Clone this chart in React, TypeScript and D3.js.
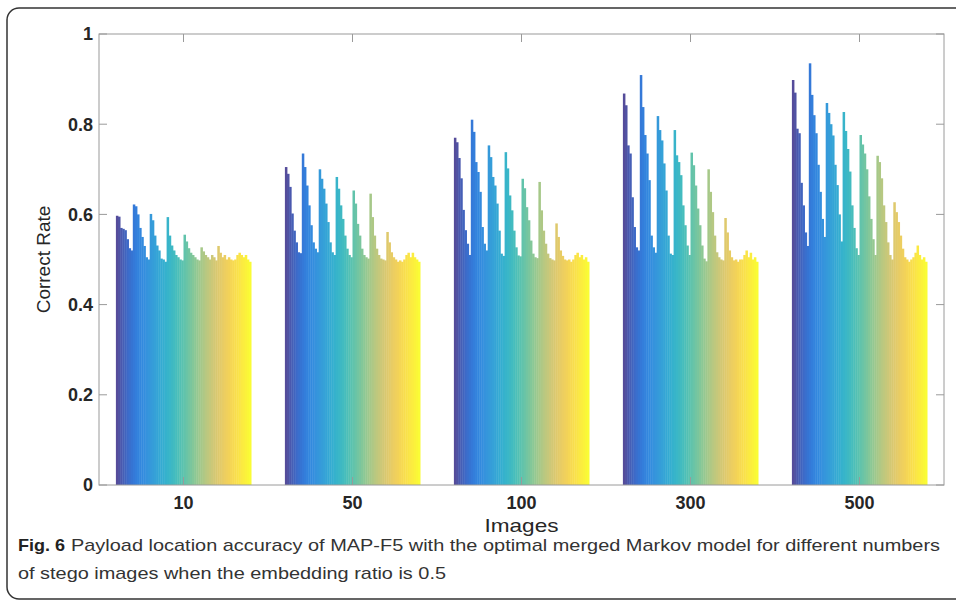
import React from "react";
import * as d3 from "d3";

const categories = ["10", "50", "100", "300", "500"];

// 64 bars per group (8 clusters of 8)
const g10 = [
  0.597, 0.595, 0.57, 0.568, 0.565, 0.545, 0.525, 0.52,
  0.622, 0.618, 0.6, 0.57, 0.55, 0.53, 0.505, 0.5,
  0.601, 0.587, 0.553, 0.531, 0.52, 0.502, 0.5, 0.495,
  0.594, 0.553, 0.531, 0.52, 0.51, 0.505, 0.5, 0.498,
  0.555, 0.54, 0.525, 0.515, 0.51, 0.505, 0.5, 0.498,
  0.527, 0.518, 0.51, 0.505, 0.5, 0.51, 0.505, 0.498,
  0.53, 0.515, 0.505, 0.51, 0.5, 0.505, 0.5, 0.498,
  0.5, 0.51, 0.515, 0.51, 0.505, 0.51, 0.5, 0.495,
];
const g50 = [
  0.705, 0.69, 0.661, 0.602, 0.564, 0.538, 0.516, 0.514,
  0.735, 0.705, 0.664, 0.62, 0.576, 0.538, 0.524, 0.516,
  0.7, 0.679, 0.657, 0.624, 0.583, 0.538, 0.516, 0.51,
  0.683, 0.657, 0.62, 0.59, 0.553, 0.524, 0.51, 0.505,
  0.653, 0.624, 0.579, 0.553, 0.524, 0.51, 0.505, 0.502,
  0.646, 0.594, 0.553, 0.524, 0.51, 0.502, 0.5, 0.498,
  0.561, 0.538, 0.516, 0.505, 0.5, 0.495, 0.498, 0.495,
  0.5, 0.51, 0.515, 0.505, 0.515, 0.505, 0.5, 0.495,
];
const g100 = [
  0.77, 0.76, 0.725, 0.68, 0.61, 0.565, 0.535, 0.51,
  0.81, 0.783, 0.716, 0.694, 0.65, 0.572, 0.535, 0.52,
  0.753, 0.727, 0.683, 0.664, 0.624, 0.564, 0.513, 0.508,
  0.738, 0.702, 0.642, 0.609, 0.564, 0.527, 0.509, 0.507,
  0.679, 0.658, 0.616, 0.587, 0.542, 0.513, 0.505, 0.503,
  0.672, 0.609, 0.564, 0.535, 0.513, 0.503, 0.5, 0.498,
  0.58, 0.55, 0.52, 0.508, 0.5, 0.498, 0.5, 0.495,
  0.5, 0.51, 0.515, 0.505, 0.51, 0.5, 0.505, 0.495,
];
const g300 = [
  0.868, 0.842, 0.753, 0.735, 0.638, 0.572, 0.527, 0.52,
  0.909, 0.838, 0.776, 0.735, 0.676, 0.553, 0.527, 0.515,
  0.818, 0.787, 0.764, 0.713, 0.653, 0.553, 0.513, 0.51,
  0.787, 0.731, 0.716, 0.687, 0.62, 0.576, 0.531, 0.51,
  0.737, 0.709, 0.664, 0.613, 0.576, 0.531, 0.502, 0.496,
  0.7, 0.65, 0.605, 0.553, 0.516, 0.505, 0.5, 0.498,
  0.592, 0.56, 0.52, 0.505, 0.498, 0.5, 0.495, 0.5,
  0.5, 0.51, 0.52, 0.505, 0.515, 0.5, 0.505, 0.495,
];
const g500 = [
  0.898, 0.87, 0.79, 0.78, 0.67, 0.62, 0.56, 0.53,
  0.935, 0.865, 0.82, 0.78, 0.71, 0.65, 0.59, 0.55,
  0.847, 0.825, 0.8, 0.775, 0.71, 0.665, 0.6, 0.54,
  0.827, 0.785, 0.745, 0.695, 0.62, 0.57, 0.525, 0.51,
  0.776, 0.755, 0.735, 0.7, 0.64, 0.59, 0.545, 0.51,
  0.73, 0.716, 0.68, 0.62, 0.583, 0.538, 0.51, 0.5,
  0.627, 0.605, 0.583, 0.553, 0.524, 0.505, 0.5, 0.495,
  0.5, 0.505, 0.515, 0.531, 0.51, 0.5, 0.505, 0.495,
];
const seriesByGroup = [g10, g50, g100, g300, g500];
const yTicks = [0, 0.2, 0.4, 0.6, 0.8, 1];
const yTickLabels = ["0", "0.2", "0.4", "0.6", "0.8", "1"];

const parulaStops = [
  "#352a87", "#0363e1", "#1485d4", "#06a7c6", "#38b99e",
  "#92bf73", "#d9ba56", "#fcce2e", "#f9fb0e",
];

export default function App() {
  const W = 956, H = 606;
  const left = 99, right = 944, top = 34, bottom = 485;
  const nBars = g10.length;

  const x = d3.scaleLinear().domain([0.5, 5.5]).range([left, right]);
  const y = d3.scaleLinear().domain([0, 1]).range([bottom, top]);
  const groupW = x(1.8) - x(1);
  const inner = d3.scaleBand<number>().domain(d3.range(nBars)).range([-groupW / 2, groupW / 2]).padding(0);
  const interp = d3.interpolateRgbBasis(parulaStops);
  const color = (i: number) => d3.interpolateRgb(interp(i / (nBars - 1)), "#ffffff")(0.16);

  const tickLen = 8;
  const axisColor = "#9a9a9a";
  const textColor = "#262626";

  return (
    <svg width={W} height={H} style={{ position: "absolute", left: 0, top: 0, background: "#fff" }}
      fontFamily="'Liberation Sans', Arial, sans-serif">
      <rect x={7} y={8} width={990} height={591} rx={12} ry={12} fill="none" stroke="#333" strokeWidth={1.5} />
      {seriesByGroup.map((vals, gi) => (
        <g key={gi} transform={`translate(${x(gi + 1)},0)`}>
          {vals.map((v, i) => (
            <rect key={i} x={inner(i)!} width={inner.bandwidth() + 0.4} y={y(v)} height={y(0) - y(v)} fill={color(i)} />
          ))}
        </g>
      ))}
      <rect x={left} y={top} width={right - left} height={bottom - top} fill="none" stroke={axisColor} strokeWidth={1} />
      {yTicks.map((t, i) => (
        <g key={"y" + i}>
          <line x1={left} x2={left + tickLen} y1={y(t)} y2={y(t)} stroke={axisColor} />
          <line x1={right} x2={right - tickLen} y1={y(t)} y2={y(t)} stroke={axisColor} />
          <text x={left - 6} y={y(t)} dy="0.36em" textAnchor="end" fontSize={18} fontWeight="bold" fill={textColor}>
            {yTickLabels[i]}
          </text>
        </g>
      ))}
      {categories.map((c, i) => (
        <g key={"x" + i}>
          <line x1={x(i + 1)} x2={x(i + 1)} y1={bottom} y2={bottom - tickLen} stroke={axisColor} />
          <line x1={x(i + 1)} x2={x(i + 1)} y1={top} y2={top + tickLen} stroke={axisColor} />
          <text x={x(i + 1)} y={509} textAnchor="middle" fontSize={18} fontWeight="bold" fill={textColor}>
            {c}
          </text>
        </g>
      ))}
      <text x={(left + right) / 2} y={532} textAnchor="middle" fontSize={19} fill={textColor}
        textLength={74} lengthAdjust="spacingAndGlyphs">Images</text>
      <text transform={`translate(50,${(top + bottom) / 2}) rotate(-90)`} textAnchor="middle" fontSize={19} fill={textColor}>
        Correct Rate
      </text>
      <text x={18} y={551} fontSize={17} fontWeight="bold" fill="#222" textLength={47} lengthAdjust="spacingAndGlyphs">Fig. 6</text>
      <text x={71} y={551} fontSize={17} fill="#333" textLength={869} lengthAdjust="spacingAndGlyphs">
        Payload location accuracy of MAP-F5 with the optimal merged Markov model for different numbers
      </text>
      <text x={18} y={579} fontSize={17} fill="#333" textLength={428} lengthAdjust="spacingAndGlyphs">
        of stego images when the embedding ratio is 0.5
      </text>
    </svg>
  );
}
